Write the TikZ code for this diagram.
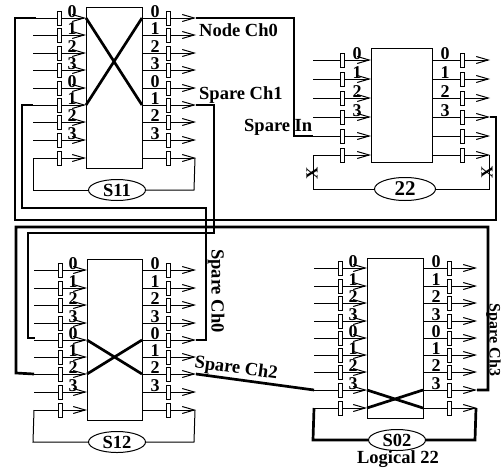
\documentclass[tikz,border=0pt]{standalone}
\usepackage{fontspec}
\setmainfont{Liberation Serif}
\usetikzlibrary{arrows.meta,shapes.geometric}
\newcommand{\chports}[7]{%
  \foreach \n/\y/\lab in {#7} {
    \coordinate (#1in\n) at (#2,\y);
    \coordinate (#1bl\n) at (#4,\y);
    \coordinate (#1br\n) at (#5,\y);
    \coordinate (#1out\n) at (#6+1,\y);
    \draw[wire] (#1in\n) -- (#1bl\n);
    \draw[wire] (#1br\n) -- (#1out\n);
    \node[gate] (#1gl\n) at (#3,\y) {};
    \node[gate] (#1gr\n) at (#6-27,\y) {};
    \node[num] (#1nl\n) at (#4-14,\y-6) {\lab};
    \node[num] (#1nr\n) at (#5+13,\y-6) {\lab};
  }
}
\begin{document}
\begin{tikzpicture}[
  x=1pt, y=-1pt,
  swbox/.style={rectangle, draw, inner sep=0pt, minimum width=56pt, line width=1pt},
  gate/.style={rectangle, draw, fill=white, inner sep=0pt, minimum width=4pt, minimum height=14pt, line width=0.8pt},
  wire/.style={-{Straight Barb[length=12pt,width=7pt]}, line width=1pt},
  link/.style={line width=1pt},
  bus/.style={line width=2.7pt},
  num/.style={inner sep=0pt, font=\fontsize{18}{18}\selectfont\bfseries},
  tag/.style={inner sep=0pt, font=\fontsize{18.5}{18.5}\selectfont\bfseries},
  cutx/.style={inner sep=0pt, rotate=90, font=\fontsize{17}{17}\selectfont\bfseries},
  ring/.style={ellipse, draw, fill=white, inner sep=0pt, minimum width=57pt, minimum height=21pt, line width=1pt, font=\fontsize{18.5}{18.5}\selectfont\bfseries},
]
  \useasboundingbox (0,0) rectangle (502,471);

  % Switch S11
  \node[swbox, minimum height=161pt] (s11) at (114,88) {};
  \chports{sa}{33}{59}{86}{142}{195}{0/18/0,1/35/1,2/53/2,3/70/3,4/88/0,5/105/1,6/122/2,7/140/3,8/158/}
  \node[ring] (sar) at (117,190) {S11};
  \draw[link] (sain8) -- (33,190) -- (sar);
  \draw[link] (saout8) ++(-1,0) -- (194,190) -- (sar);
  \draw[bus] (sabl0) -- (sabr5);
  \draw[bus] (sabl5) -- (sabr0);

  % Switch 22
  \node[swbox, minimum height=114pt, minimum width=61pt] (t22) at (401.5,105) {};
  \chports{tb}{313}{342}{371}{432}{489}{0/60/0,1/79/1,2/98/2,3/117/3,4/136/,5/155/}
  \node[ring, minimum width=61pt, minimum height=23pt, font=\fontsize{21}{21}\selectfont\bfseries] (tbr) at (405,189) {22};
  \draw[link] (tbin5) -- (313,189) -- (tbr);
  \draw[link] (tbout5) ++(-1,0) -- (489,189) -- (tbr);
  \node[cutx] (xa) at (312,173) {X};
  \node[cutx] (xb) at (487,172) {X};

  % Switch S12
  \node[swbox, minimum height=161pt, minimum width=55pt] (s12) at (114.5,339.5) {};
  \chports{sb}{34}{60}{87}{142}{195}{0/270/0,1/288/1,2/305/2,3/323/3,4/340/0,5/357/1,6/374/2,7/392/3,8/410/}
  \node[ring] (sbr) at (117,442) {S12};
  \draw[link] (sbin8) -- (33,442) -- (sbr);
  \draw[link] (sbout8) ++(-1,0) -- (194,442) -- (sbr);
  \draw[bus] (sbbl4) -- (sbbr6);
  \draw[bus] (sbbl6) -- (sbbr4);

  % Switch S02
  \node[swbox, minimum height=160pt] (s02) at (395,338) {};
  \chports{sc}{314}{340}{367}{423}{476}{0/268/0,1/286/1,2/303/2,3/321/3,4/338/0,5/355/1,6/372/2,7/390/3,8/408/}
  \node[ring] (scr) at (397,440) {S02};
  \draw[bus] (scin8) -- (313,440) -- (scr);
  \draw[bus] (scout8) ++(-1,0) -- (475,440) -- (scr);
  \draw[bus] (scbl7) -- (scbr8);
  \draw[bus] (scbl8) -- (scbr7);
  \node[tag] (logical) at (398,459) {Logical 22};

  % Spare channels
  \draw[bus] (saout0) -- (294,18) -- (294,136) -- (tbin4);
  \draw[bus] (tbout3) -- (496,117) -- (496,220) -- (15,220) -- (15,18) -- (36,18);
  \draw[bus] (saout5) -- (214,105) -- (214,233) -- (28,233) -- (28,338) -- (35,338);
  \draw[bus] (sbout4) -- (206,340) -- (206,208) -- (22,208) -- (22,105) -- (33,105);
  \draw[bus] (sbin6) -- (16,373) -- (16,227) -- (488,227) -- (488,390) -- (scout7);
  \draw[bus] (sbout6) -- (scin7);
  \node[tag, anchor=west] (nch0) at (199,30) {Node Ch0};
  \node[tag, anchor=west] (sch1) at (199,95) {Spare Ch1};
  \node[tag, anchor=west] (sin) at (244,127) {Spare In};
  \node[tag, rotate=-90] (sch0) at (216,291) {Spare Ch0};
  \node[tag, rotate=-8] (sch2) at (236,369) {Spare Ch2};
  \node[tag, rotate=-90, font=\fontsize{16}{16}\selectfont\bfseries] (sch3) at (493.5,340) {Spare Ch3};
\end{tikzpicture}
\end{document}
